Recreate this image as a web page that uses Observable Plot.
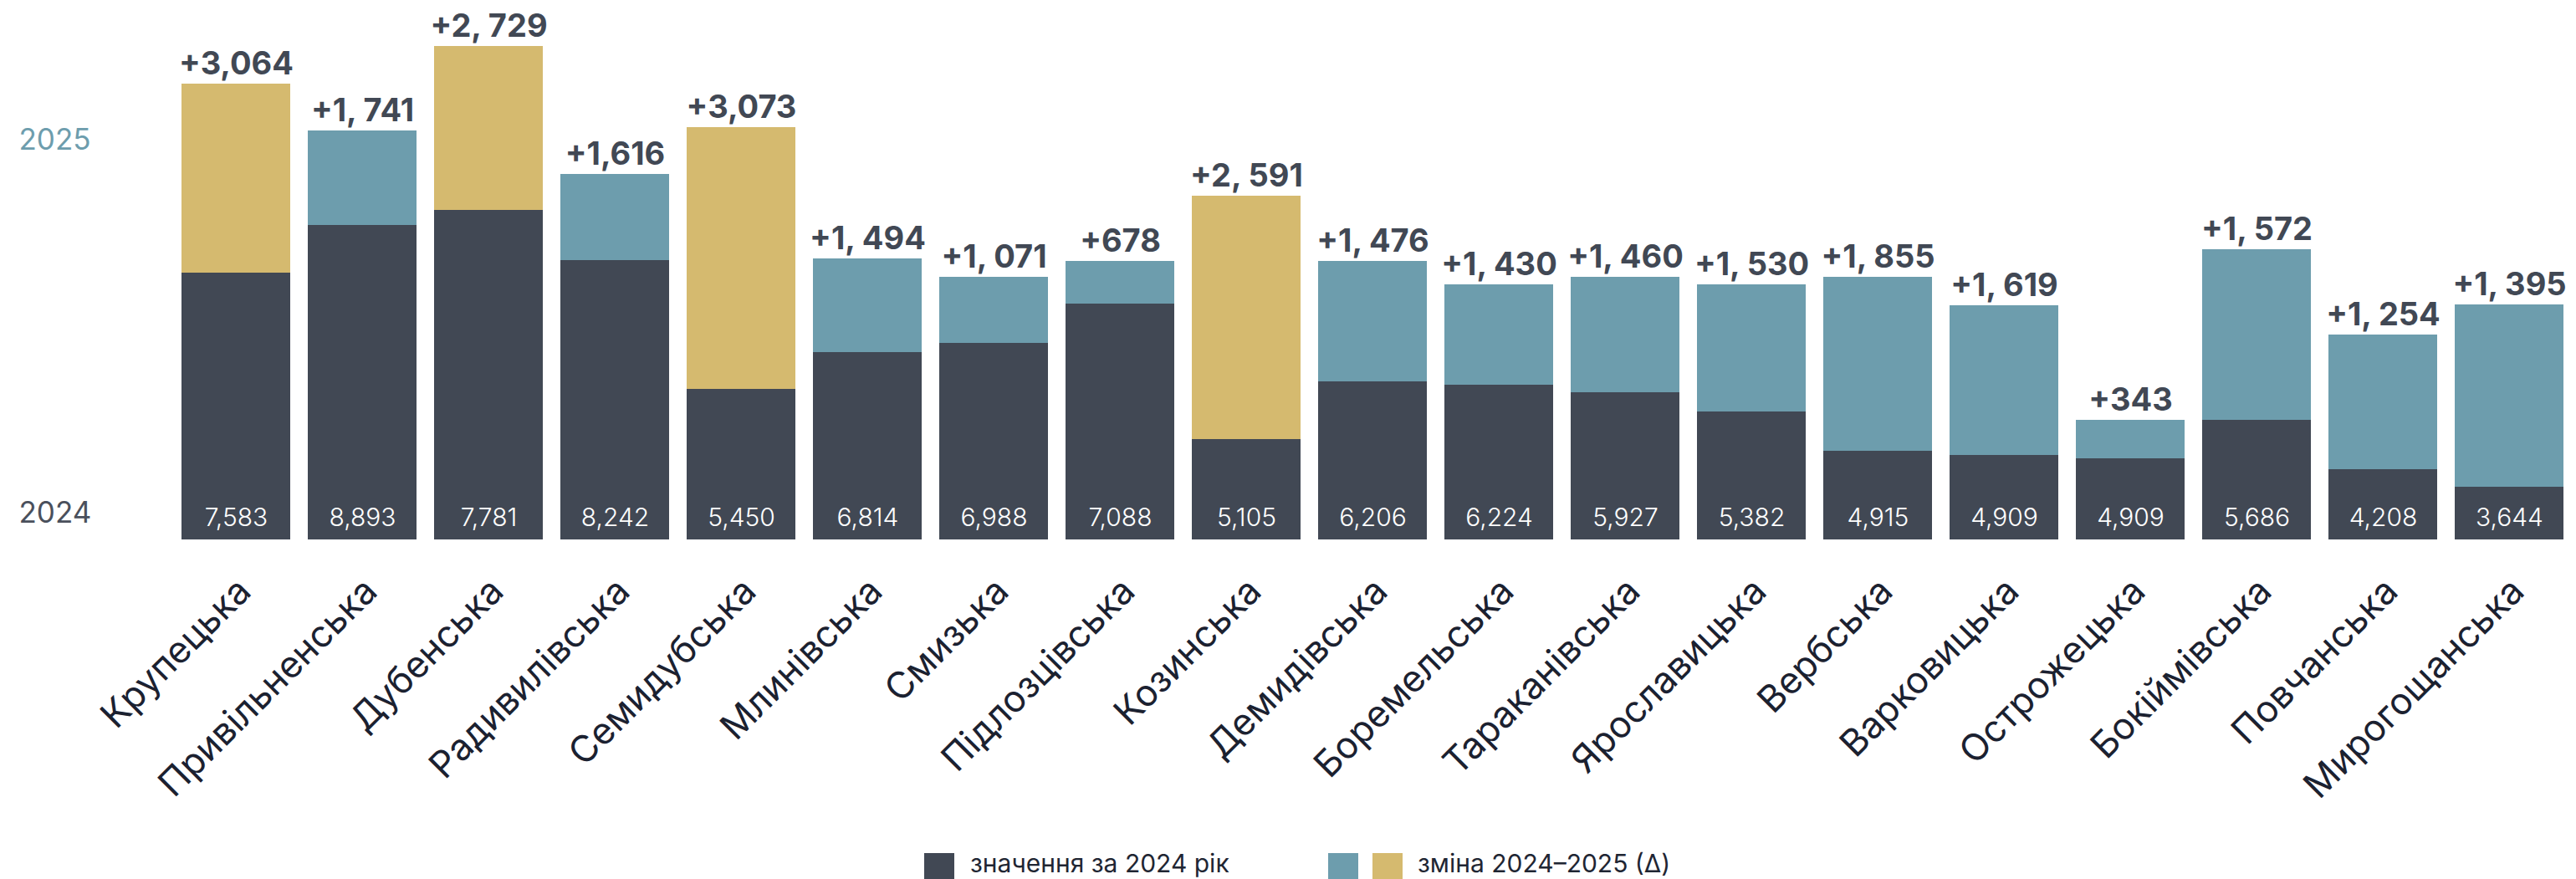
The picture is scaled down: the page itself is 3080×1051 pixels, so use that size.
<!DOCTYPE html>
<html>
<head>
<meta charset="utf-8">
<script src="https://cdn.jsdelivr.net/npm/d3@7"></script>
<script src="https://cdn.jsdelivr.net/npm/@observablehq/plot@0.6"></script>
<style>
  html, body { margin: 0; padding: 0; background: #fff; overflow: hidden; }
  body { width: 3080px; height: 1051px; font-family: Inter, "Noto Sans", sans-serif; }
  #legend { position: relative; height: 39px; display: flex; align-items: flex-start; padding-left: 1105px; padding-top: 8px; box-sizing: border-box; }
  .sw { width: 36px; height: 36px; flex: none; }
  .lt { font-size: 30px; color: #1f2633; line-height: 36px; margin-top: -6px; white-space: nowrap; }
  g[aria-label="category-labels"] text { letter-spacing: 1.5px; }
</style>
</head>
<body>
<div id="chart"></div>
<div id="legend"></div>
<script>
// Categories (hromadas)
const names = ["Крупецька","Привільненська","Дубенська","Радивилівська","Семидубська","Млинівська","Смизька","Підлозцівська","Козинська","Демидівська","Боремельська","Тараканівська","Ярославицька","Вербська","Варковицька","Острожецька","Бокіймівська","Повчанська","Мирогощанська"];
// Printed values for 2024
const labels2024 = ["7,583","8,893","7,781","8,242","5,450","6,814","6,988","7,088","5,105","6,206","6,224","5,927","5,382","4,915","4,909","4,909","5,686","4,208","3,644"];
// Printed change 2024–2025
const labelsChange = ["+3,064","+1, 741","+2, 729","+1,616","+3,073","+1, 494","+1, 071","+678","+2, 591","+1, 476","+1, 430","+1, 460","+1, 530","+1, 855","+1, 619","+343","+1, 572","+1, 254","+1, 395"];
// Bar lengths as drawn in the reference (not proportional to the printed numbers)
const bar2024 = [319,376,394,334,180,224,235,282,120,189,185,176,153,106,101,97,143,84,63];
const barChange = [226,113,196,103,313,112,79,51,291,144,120,138,152,208,179,46,204,161,218];
// Hromadas whose change is highlighted in gold
const goldNames = ["Крупецька","Дубенська","Семидубська","Козинська"];
// Side labels and legend texts
const yearLabels = ["2024","2025"];
const legendLabels = ["значення за 2024 рік","зміна 2024–2025 (Δ)"];

const dark = "#414854", teal = "#6d9dad", gold = "#d5ba6f";

const rows = names.map((name, i) => ({
  name,
  len24: bar2024[i],
  top: bar2024[i] + barChange[i],
  lab24: labels2024[i],
  labCh: labelsChange[i],
  fill: goldNames.includes(name) ? gold : teal
}));

const W = 3080, H = 1012, base = 645;

const chart = Plot.plot({
  width: W,
  height: H,
  marginLeft: 209,
  marginRight: 7,
  marginTop: 45,
  marginBottom: H - base,
  x: { domain: names, paddingInner: 0.137, paddingOuter: 0, axis: null },
  y: { domain: [0, 600], axis: null },
  color: { type: "identity" },
  style: { fontFamily: "Inter, 'Noto Sans', sans-serif", background: "#fff" },
  marks: [
    Plot.barY(rows, { x: "name", y1: 0, y2: "len24", fill: dark }),
    Plot.barY(rows, { x: "name", y1: "len24", y2: "top", fill: "fill" }),
    Plot.text(rows, { x: "name", y: 0, text: "lab24", dy: -17, lineAnchor: "bottom", fill: "#ffffff", fontSize: 30, fontWeight: 300 }),
    Plot.text(rows, { x: "name", y: "top", text: "labCh", dy: -12, lineAnchor: "bottom", fill: dark, fontSize: 38, fontWeight: 700 }),
    Plot.text(rows, { x: "name", y: 0, text: "name", ariaLabel: "category-labels", rotate: -45, textAnchor: "end", lineAnchor: "bottom", dx: 20, dy: 64, fontSize: 44, fill: "#1b2130" }),
    Plot.text([yearLabels[1]], { frameAnchor: "top-left", text: d => d, textAnchor: "start", lineAnchor: "bottom", dx: -187, dy: 133, fontSize: 35, fill: teal }),
    Plot.text([yearLabels[0]], { frameAnchor: "bottom-left", text: d => d, textAnchor: "start", lineAnchor: "bottom", dx: -187, dy: -21, fontSize: 35, fill: "#4a505c" })
  ]
});
document.getElementById("chart").appendChild(chart);

// Legend below the chart
const lg = document.getElementById("legend");
function sw(color, ml) { const s = document.createElement("span"); s.className = "sw"; s.style.background = color; s.style.marginLeft = ml + "px"; return s; }
function lt(text, ml) { const t = document.createElement("span"); t.className = "lt"; t.textContent = text; t.style.marginLeft = ml + "px"; return t; }
lg.appendChild(sw(dark, 0));
const first = lt(legendLabels[0], 19);
lg.appendChild(first);
const tealSw = sw(teal, 0);
lg.appendChild(tealSw);
lg.appendChild(sw(gold, 17));
lg.appendChild(lt(legendLabels[1], 18));
const firstRight = 1105 + 36 + 19 + first.getBoundingClientRect().width;
tealSw.style.marginLeft = Math.max(20, 1588 - firstRight) + "px";
</script>
</body>
</html>
